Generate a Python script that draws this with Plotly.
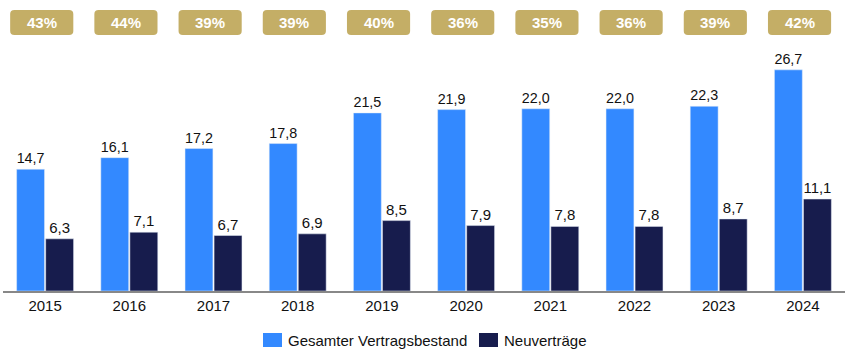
import plotly.graph_objects as go

years = ["2015", "2016", "2017", "2018", "2019", "2020", "2021", "2022", "2023", "2024"]
gesamt = [14.7, 16.1, 17.2, 17.8, 21.5, 21.9, 22.0, 22.0, 22.3, 26.7]
neu = [6.3, 7.1, 6.7, 6.9, 8.5, 7.9, 7.8, 7.8, 8.7, 11.1]
anteil = ["43%", "44%", "39%", "39%", "40%", "36%", "35%", "36%", "39%", "42%"]
series_names = ["Gesamter Vertragsbestand", "Neuverträge"]

BLUE = "#3389FF"
NAVY = "#171C4D"
GOLD = "#C4AE66"
W, H = 856, 358
ML, MR, MT, MB = 3, 11, 45, 67

def fmt(v):
    return f"{v:.1f}".replace(".", ",")

xs = list(range(len(years)))

fig = go.Figure()
fig.add_bar(x=xs, y=gesamt, name=series_names[0], marker_color=BLUE,
            text=[fmt(v) for v in gesamt], textposition="outside",
            textfont=dict(size=15, color="#111"), cliponaxis=False)
fig.add_bar(x=xs, y=neu, name=series_names[1], marker_color=NAVY,
            text=[fmt(v) for v in neu], textposition="outside",
            textfont=dict(size=15, color="#111"), cliponaxis=False)

# rounded gold boxes with share labels
hw = 0.375
rx = 0.05
y0, y1 = 1.041, 1.142
ry = 0.016
for i, lab in enumerate(anteil):
    c = i - 0.04
    xl, xr = c - hw, c + hw
    path = (f"M {xl+rx},{y0} L {xr-rx},{y0} Q {xr},{y0} {xr},{y0+ry} "
            f"L {xr},{y1-ry} Q {xr},{y1} {xr-rx},{y1} L {xl+rx},{y1} "
            f"Q {xl},{y1} {xl},{y1-ry} L {xl},{y0+ry} Q {xl},{y0} {xl+rx},{y0} Z")
    fig.add_shape(type="path", path=path, xref="x", yref="paper",
                  fillcolor=GOLD, line=dict(width=0))
    fig.add_annotation(x=c, y=(y0 + y1) / 2, xref="x", yref="paper", text=f"<b>{lab}</b>",
                       showarrow=False, xanchor="center", yanchor="middle",
                       font=dict(size=15, color="white"))

# custom legend (paper coordinates)
pw = W - ML - MR
ph = H - MT - MB
def px_x(p):
    return (p - ML) / pw
def px_y(p):
    return (H - MB - p) / ph

legend_items = [(series_names[0], BLUE, 263), (series_names[1], NAVY, 479)]
for name, col, sx in legend_items:
    fig.add_shape(type="rect", xref="paper", yref="paper",
                  x0=px_x(sx), x1=px_x(sx + 19), y0=px_y(347), y1=px_y(333),
                  fillcolor=col, line=dict(width=0))
    fig.add_annotation(xref="paper", yref="paper", x=px_x(sx + 23), y=px_y(340),
                       text=name, showarrow=False, xanchor="left", yanchor="middle",
                       font=dict(size=15, color="#111"))

fig.update_layout(
    width=W, height=H,
    margin=dict(l=ML, r=MR, t=MT, b=MB),
    paper_bgcolor="white", plot_bgcolor="white",
    barmode="group", bargap=0.31, bargroupgap=0.04,
    font=dict(family="Liberation Sans, Arial, sans-serif", size=15, color="#111"),
    showlegend=False,
    xaxis=dict(range=[-0.5, 9.5], tickvals=xs, ticktext=years, showgrid=False,
               showline=True, linecolor="#888", linewidth=1.5, ticks="",
               tickfont=dict(size=15, color="#111"), zeroline=False),
    yaxis=dict(range=[0, 29.7], visible=False, showgrid=False, zeroline=False),
)

fig.write_html("out.html", config={"displayModeBar": False},
               post_script="document.body.style.margin='0';document.body.style.overflow='hidden';")
